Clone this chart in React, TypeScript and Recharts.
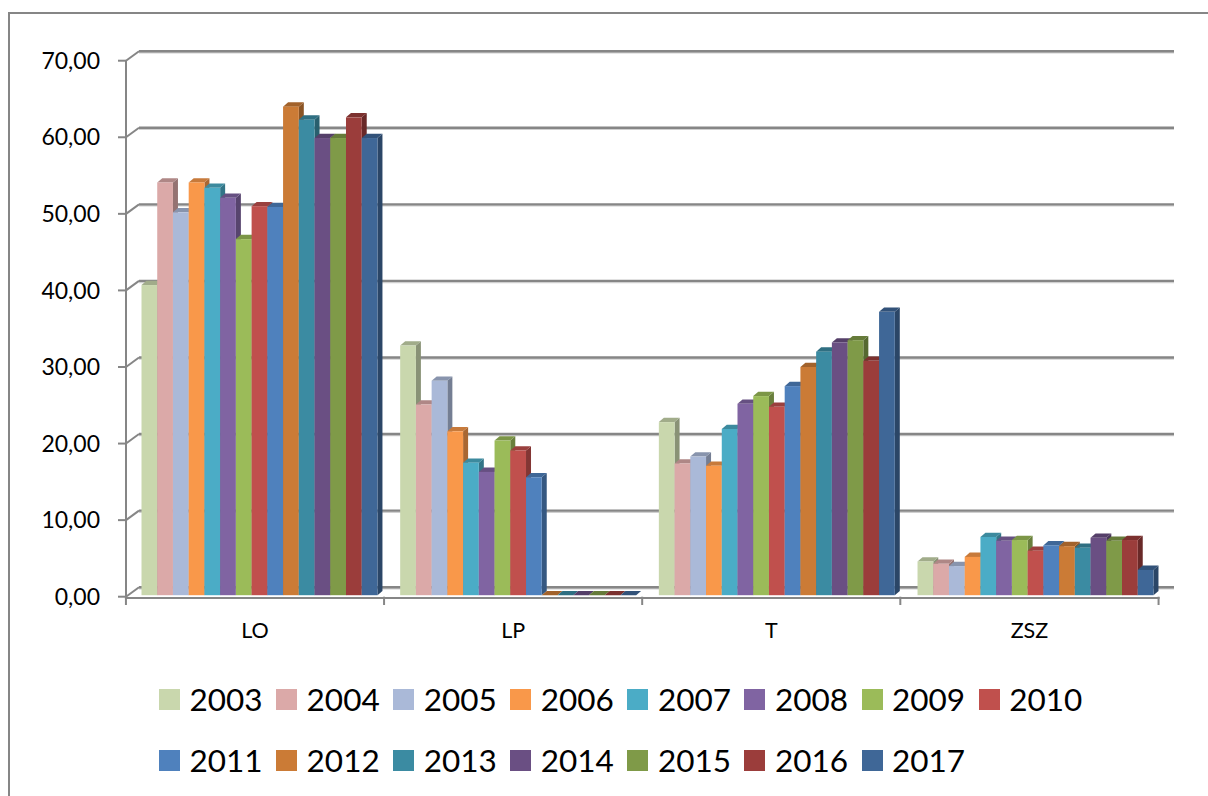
import { BarChart, Bar, XAxis, YAxis, CartesianGrid, Legend } from "recharts";

const categories = ["LO", "LP", "T", "ZSZ"];
const years = ["2003", "2004", "2005", "2006", "2007", "2008", "2009", "2010", "2011", "2012", "2013", "2014", "2015", "2016", "2017"];
const yTicks = [0, 10, 20, 30, 40, 50, 60, 70];

const valuesLO = [40.7, 54.1, 50.2, 54.1, 53.4, 52.1, 46.7, 51.0, 50.9, 64.0, 62.3, 59.9, 59.9, 62.6, 59.9];
const valuesLP = [32.8, 25.1, 28.2, 21.6, 17.5, 16.3, 20.4, 19.1, 15.6, 0, 0, 0, 0, 0, 0];
const valuesT = [22.8, 17.4, 18.3, 17.1, 21.9, 25.2, 26.2, 24.8, 27.5, 30.0, 32.0, 33.2, 33.5, 30.8, 37.2];
const valuesZSZ = [4.6, 4.3, 4.0, 5.2, 7.8, 7.3, 7.4, 6.0, 6.7, 6.6, 6.4, 7.7, 7.3, 7.4, 3.5];

const colors = ["#C9D7AD", "#DBA9A8", "#AAB9D8", "#F9984A", "#4BACC6", "#8064A2", "#9BBB59", "#C0504D", "#4F81BD", "#CB7B36", "#3B8BA2", "#6A4F83", "#7F9A48", "#9B3D3B", "#3F6797"];

const table = categories.map((name, c) => {
  const row: Record<string, string | number> = { name };
  const src = [valuesLO, valuesLP, valuesT, valuesZSZ][c];
  years.forEach((y, i) => { row[y] = src[i]; });
  return row;
});

const FONT = "Lato, sans-serif";
const AXIS = "#868686";
const DX = 5;
const DY = 4.3;
const BACK_X = 13;
const BACK_Y = 9.5;
const BAND = 258.25;
const BAR_W = 15.73;

function shade(hex: string, k: number) {
  const n = parseInt(hex.slice(1), 16);
  const part = (v: number) => Math.round(v * k);
  return `rgb(${part((n >> 16) & 255)},${part((n >> 8) & 255)},${part(n & 255)})`;
}

/* fake 3d column: front face plus top and side.
   recharts floors the bar width, so the nudge here gets back the fractional width */
function Column(props: any) {
  const { x, y, width, height, fill, index, series } = props;
  const l = x + 4.3 - series * (width - BAR_W) + index * 0.55;
  const r = l + BAR_W;
  const b = y + height - 1.5;
  const t = Math.min(y, b);
  return (
    <g>
      <polygon points={`${r},${b} ${r + DX},${b - DY} ${r + DX},${t - DY} ${r},${t}`} fill={shade(fill, 0.68)} />
      <polygon points={`${l},${t} ${l + DX},${t - DY} ${r + DX},${t - DY} ${r},${t}`} fill={shade(fill, 0.8)} />
      <rect x={l} y={t} width={BAR_W} height={b - t} fill={fill} />
    </g>
  );
}

function GridLine(props: any) {
  const { x1, x2, y1 } = props;
  return (
    <g key={props.key}>
      <line x1={x1} y1={y1} x2={x1 + BACK_X} y2={y1 - BACK_Y} stroke={AXIS} strokeWidth={2} />
      <line x1={x1 + BACK_X} y1={y1 - BACK_Y + 1.5} x2={x2 + 15.5} y2={y1 - BACK_Y + 1.5} stroke="#D0D0D0" strokeWidth={1.5} />
      <line x1={x1 + BACK_X} y1={y1 - BACK_Y} x2={x2 + 15.5} y2={y1 - BACK_Y} stroke={AXIS} strokeWidth={2.4} />
    </g>
  );
}

// axis line sits a touch under the zero tick in the original, so it is drawn with the ticks
function CategoryTick(props: any) {
  const { x, y, payload, index } = props;
  const left = x - BAND / 2;
  const right = x + BAND / 2;
  const top = y - 8;
  const lineY = top + 1.3;
  return (
    <g>
      <line x1={left - 1} y1={lineY} x2={right + 1} y2={lineY} stroke={AXIS} strokeWidth={2} />
      <line x1={left} y1={top} x2={left} y2={lineY + 7} stroke={AXIS} strokeWidth={2} />
      {index === categories.length - 1 && <line x1={right} y1={top} x2={right} y2={lineY + 7} stroke={AXIS} strokeWidth={2} />}
      <text x={x} y={top + 41.5} textAnchor="middle" fontFamily={FONT} fontSize={21.5} fill="#000">{payload.value}</text>
    </g>
  );
}

function LegendRows({ payload }: any) {
  return (
    <div style={{ display: "flex", flexWrap: "wrap", width: 940, rowGap: 0 }}>
      {(payload || []).map((p: any) => (
        <div key={p.value} style={{ width: 117.1, height: 61, display: "flex", alignItems: "center" }}>
          <span style={{ width: 21, height: 21, background: p.color, marginRight: 9.5, flex: "none" }} />
          <span style={{ fontFamily: FONT, fontSize: 31.5, color: "#000", lineHeight: "61px" }}>{p.value}</span>
        </div>
      ))}
    </div>
  );
}

export default function App() {
  return (
    <div style={{ position: "absolute", left: 0, top: 0, width: 1208, height: 796, overflow: "hidden", background: "#fff" }}>
      <div style={{ position: "absolute", left: 8, top: 12, width: 1300, height: 900, borderLeft: "2px solid #868686", borderTop: "2px solid #868686" }} />
      <BarChart
        width={1208}
        height={796}
        data={table}
        barCategoryGap={11.2}
        barGap={0}
        margin={{ top: 60.7, right: 49.5, bottom: 159.3, left: 0 }}
        style={{ position: "absolute", left: 0, top: 0 }}
      >
        <CartesianGrid vertical={false} horizontal={GridLine as any} />
        <XAxis
          dataKey="name"
          height={40}
          tickLine={false}
          axisLine={false}
          tick={CategoryTick as any}
          interval={0}
        />
        <YAxis
          width={126}
          domain={[0, 70]}
          ticks={yTicks}
          interval={0}
          axisLine={{ stroke: AXIS, strokeWidth: 2 }}
          tickLine={{ stroke: AXIS, strokeWidth: 2 }}
          tickSize={8}
          tickMargin={18}
          tick={{ fontFamily: FONT, fontSize: 23, fill: "#000" }}
          tickFormatter={(v: number) => v.toFixed(2).replace(".", ",")}
        />
        <Legend
          layout="horizontal"
          verticalAlign="middle"
          align="center"
          content={LegendRows as any}
          wrapperStyle={{ left: 159, top: 669, width: 940 }}
        />
        {years.map((y, i) => (
          <Bar
            key={y}
            dataKey={y}
            fill={colors[i]}
            shape={(p: any) => <Column {...p} series={i} />}
            isAnimationActive={false}
            legendType="square"
          />
        ))}
      </BarChart>
    </div>
  );
}
